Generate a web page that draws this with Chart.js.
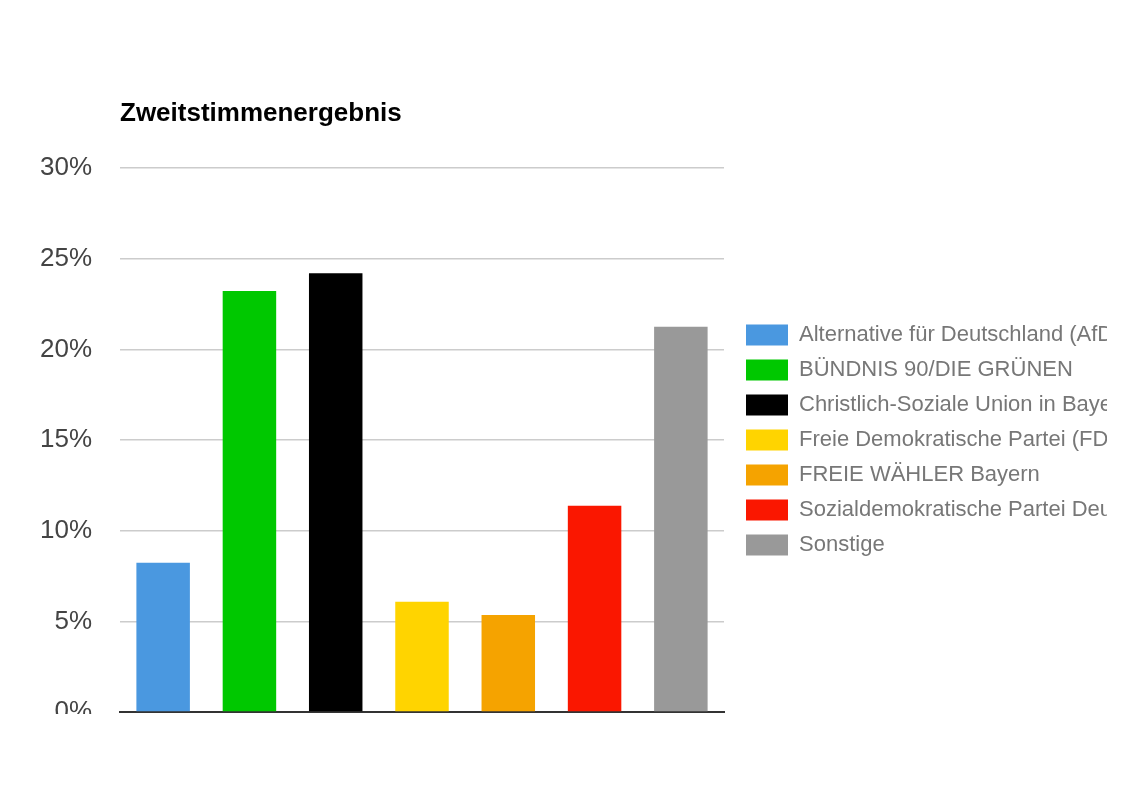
<!DOCTYPE html>
<html>
<head>
<meta charset="utf-8">
<script src="https://cdn.jsdelivr.net/npm/chart.js@4.4.0/dist/chart.umd.min.js"></script>
<style>
  html, body { margin: 0; padding: 0; background: #ffffff; }
  #wrap { position: absolute; left: 0; top: 0; width: 1107px; height: 802px; }
</style>
</head>
<body>
<div id="wrap"><canvas id="c"></canvas></div>
<script>
const chartTitle = 'Zweitstimmenergebnis';
const parties = [
  'Alternative für Deutschland (AfD)',
  'BÜNDNIS 90/DIE GRÜNEN',
  'Christlich-Soziale Union in Bayern e.V. (CSU)',
  'Freie Demokratische Partei (FDP)',
  'FREIE WÄHLER Bayern',
  'Sozialdemokratische Partei Deutschlands (SPD)',
  'Sonstige'
];
const shares = [8.23, 23.22, 24.19, 6.08, 5.35, 11.38, 21.25];
const partyColors = ['#4a98e0', '#00c800', '#000000', '#ffd400', '#f5a300', '#fa1700', '#999999'];
const yTicks = [0, 5, 10, 15, 20, 25, 30];

const FONT = 'Arial, "Liberation Sans", Helvetica, sans-serif';

const titlePlugin = {
  id: 'leftTitle',
  afterDraw(chart) {
    const ctx = chart.ctx;
    const a = chart.chartArea;
    ctx.save();
    // mimic the cropped bottom of the original image below the axis
    ctx.fillStyle = '#ffffff';
    ctx.fillRect(0, a.bottom + 2, a.left - 2, 40);
    ctx.fillStyle = '#000000';
    ctx.font = 'bold 26px ' + FONT;
    ctx.textAlign = 'left';
    ctx.textBaseline = 'alphabetic';
    ctx.fillText(chartTitle, a.left, 121);
    ctx.restore();
  }
};

new Chart(document.getElementById('c'), {
  type: 'bar',
  data: {
    labels: parties,
    datasets: [{
      data: shares,
      backgroundColor: partyColors,
      borderWidth: 0,
      categoryPercentage: 1.0,
      barPercentage: 0.62
    }]
  },
  options: {
    responsive: true,
    maintainAspectRatio: false,
    animation: false,
    layout: { padding: { top: 168, bottom: 90, left: 0, right: 0 } },
    plugins: {
      title: { display: false },
      tooltip: { enabled: false },
      legend: {
        display: true,
        position: 'right',
        fullSize: false,
        maxWidth: 374,
        labels: {
          font: { family: FONT, size: 22 },
          color: '#777777',
          boxWidth: 42,
          boxHeight: 21,
          padding: 13,
          generateLabels(chart) {
            return parties.map((p, i) => ({
              text: p,
              fillStyle: partyColors[i],
              strokeStyle: partyColors[i],
              lineWidth: 0,
              fontColor: '#777777',
              hidden: false,
              index: i
            }));
          }
        },
        onClick: null
      }
    },
    scales: {
      x: {
        grid: { display: false },
        border: { display: true, color: '#333333', width: 2 },
        ticks: { display: false },
        afterFit(s) { s.height = 0; }
      },
      y: {
        min: 0,
        max: 30,
        afterBuildTicks(s) { s.ticks = yTicks.map(v => ({ value: v })); },
        afterFit(s) { s.width = 120; },
        grid: { color: '#cccccc', lineWidth: 1.5, drawTicks: false },
        border: { display: false },
        ticks: {
          padding: 28,
          color: '#444444',
          font: { family: FONT, size: 26 },
          callback: v => v + '%'
        }
      },
      y2: {
        position: 'right',
        display: true,
        grid: { display: false },
        border: { display: false },
        ticks: { display: false },
        afterFit(s) { s.width = 9; }
      }
    }
  },
  plugins: [titlePlugin]
});
</script>
</body>
</html>
